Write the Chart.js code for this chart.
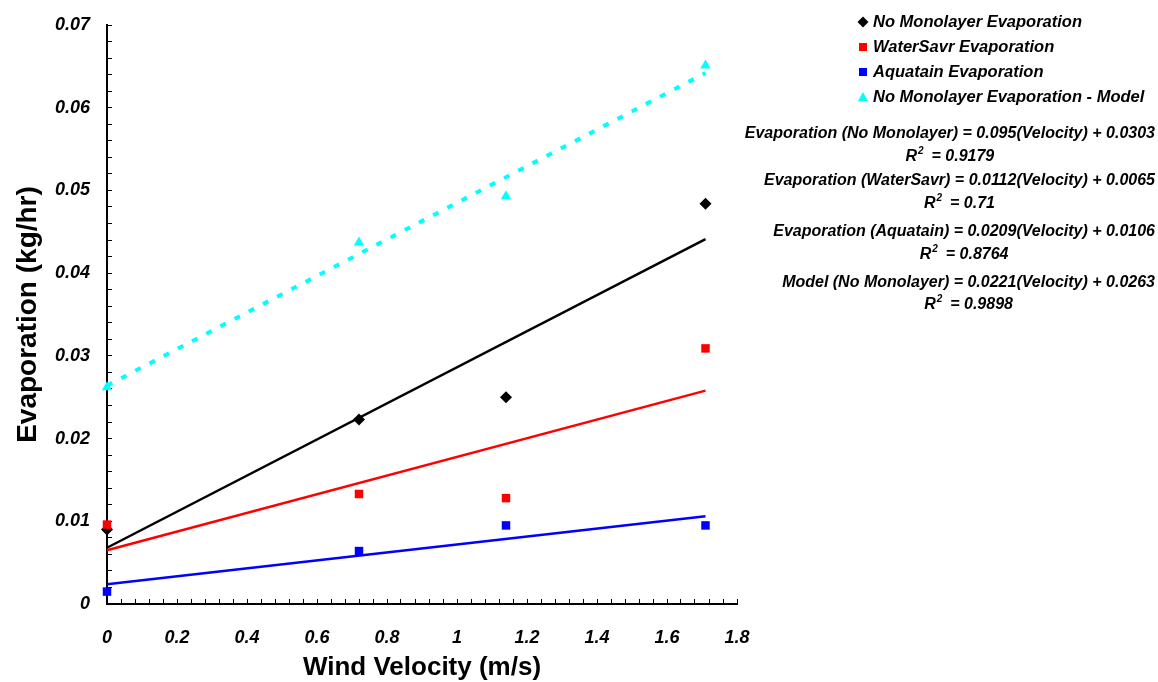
<!DOCTYPE html>
<html lang="en">
<head>
  <meta charset="UTF-8" />
  <title>Evaporation vs Wind Velocity</title>
  <script src="https://cdn.jsdelivr.net/npm/chart.js"></script>
  <style>
    body {
      margin: 0;
      background: #fff;
    }
  </style>
</head>
<body>

  <canvas id="evapChart" width="1158" height="682"></canvas>

  <script>
    // measured points, wind velocity in m/s
    const velocity = [0, 0.72, 1.14, 1.71];
    const noMonolayer = [0.0090, 0.0223, 0.0250, 0.0484];
    const waterSavr = [0.0096, 0.0133, 0.0128, 0.0309];
    const aquatain = [0.0015, 0.0064, 0.0095, 0.0095];
    const modelPoints = [0.0262, 0.0437, 0.0493, 0.0651];

    // trendlines, read at both ends
    const trendX = [0, 1.71];
    const trendNoMonolayer = [0.0068, 0.0441];
    const trendWaterSavr = [0.0065, 0.0258];
    const trendAquatain = [0.0024, 0.0106];
    const trendModel = [0.0264, 0.0642];

    const equations = [
      'Evaporation (No Monolayer) = 0.095(Velocity) + 0.0303',
      'Evaporation (WaterSavr) = 0.0112(Velocity) + 0.0065',
      'Evaporation (Aquatain) = 0.0209(Velocity) + 0.0106',
      'Model (No Monolayer) = 0.0221(Velocity) + 0.0263'
    ];
    const rSquared = ['0.9179', '0.71', '0.8764', '0.9898'];

    const xTitle = 'Wind Velocity (m/s)';
    const yTitle = 'Evaporation (kg/hr)';

    const FONT = '"Liberation Sans", Arial, sans-serif';

    function toPoints(xs, ys) {
      return xs.map((x, i) => ({ x: x, y: ys[i] }));
    }

    function markerSet(label, ys, style, color, order) {
      return {
        type: 'scatter',
        label: label,
        data: toPoints(velocity, ys),
        pointStyle: style,
        pointRadius: 6,
        backgroundColor: color,
        borderColor: color,
        borderWidth: 0,
        clip: false,
        order: order
      };
    }

    function trendSet(ys, color, dash, width) {
      return {
        type: 'line',
        label: '',
        data: toPoints(trendX, ys),
        borderColor: color,
        borderWidth: width,
        borderDash: dash,
        pointRadius: 0,
        fill: false,
        tension: 0,
        clip: false,
        order: 10
      };
    }

    function drawMarker(ctx, style, color, x, y) {
      ctx.fillStyle = color;
      ctx.beginPath();
      if (style === 'rectRot') {
        ctx.moveTo(x, y - 5.5);
        ctx.lineTo(x + 5.5, y);
        ctx.lineTo(x, y + 5.5);
        ctx.lineTo(x - 5.5, y);
      } else if (style === 'triangle') {
        ctx.moveTo(x, y - 5);
        ctx.lineTo(x + 5, y + 4);
        ctx.lineTo(x - 5, y + 4);
      } else {
        ctx.rect(x - 4, y - 4, 8, 8);
      }
      ctx.closePath();
      ctx.fill();
    }

    const extras = {
      id: 'extras',
      afterDraw(chart) {
        const ctx = chart.ctx;
        const area = chart.chartArea;
        ctx.save();
        ctx.fillStyle = '#000';
        ctx.textBaseline = 'middle';

        // axis titles
        ctx.textAlign = 'center';
        ctx.font = 'bold 26px ' + FONT;
        ctx.fillText(xTitle, (area.left + area.right) / 2, 668);
        ctx.save();
        ctx.translate(28, (area.top + area.bottom) / 2);
        ctx.rotate(-Math.PI / 2);
        ctx.font = 'bold 28px ' + FONT;
        ctx.fillText(yTitle, 0, 0);
        ctx.restore();

        // legend (first four datasets)
        ctx.textAlign = 'left';
        ctx.font = 'italic bold 16.5px ' + FONT;
        for (let i = 0; i < 4; i++) {
          const ds = chart.data.datasets[i];
          const y = 22 + i * 25;
          drawMarker(ctx, ds.pointStyle, ds.backgroundColor, 863, y);
          ctx.fillStyle = '#000';
          ctx.fillText(ds.label, 873, y);
        }

        // trendline equations
        const eqY = [134, 181, 232, 283];
        const r2Y = [157, 204, 255, 305];
        const right = 1155;
        equations.forEach((eq, i) => {
          ctx.font = 'italic bold 16px ' + FONT;
          ctx.textAlign = 'right';
          const w = ctx.measureText(eq).width;
          ctx.fillText(eq, right, eqY[i]);
          const cx = right - w / 2;

          const rest = '  = ' + rSquared[i];
          const wR = ctx.measureText('R').width;
          const wRest = ctx.measureText(rest).width;
          ctx.font = 'italic bold 10px ' + FONT;
          const w2 = ctx.measureText('2').width;
          let x = cx - (wR + w2 + wRest) / 2;
          ctx.textAlign = 'left';
          ctx.font = 'italic bold 16px ' + FONT;
          ctx.fillText('R', x, r2Y[i]);
          x += wR;
          ctx.font = 'italic bold 10px ' + FONT;
          ctx.fillText('2', x + 1, r2Y[i] - 6);
          x += w2;
          ctx.font = 'italic bold 16px ' + FONT;
          ctx.fillText(rest, x, r2Y[i]);
        });
        ctx.restore();
      }
    };

    const tickFont = { family: FONT, size: 18, weight: 'bold', style: 'italic' };

    new Chart(document.getElementById('evapChart'), {
      type: 'scatter',
      data: {
        datasets: [
          markerSet('No Monolayer Evaporation', noMonolayer, 'rectRot', '#000000', 2),
          markerSet('WaterSavr Evaporation', waterSavr, 'rect', '#ff0000', 0),
          markerSet('Aquatain Evaporation', aquatain, 'rect', '#0000ff', 1),
          markerSet('No Monolayer Evaporation - Model', modelPoints, 'triangle', '#00ffff', 3),
          trendSet(trendNoMonolayer, '#000000', [], 2.5),
          trendSet(trendWaterSavr, '#ff0000', [], 2.5),
          trendSet(trendAquatain, '#0000ff', [], 2.5),
          trendSet(trendModel, '#00ffff', [6, 10], 4)
        ]
      },
      options: {
        responsive: false,
        animation: false,
        layout: { padding: { left: 0, top: 25, right: 421, bottom: 0 } },
        plugins: {
          legend: { display: false },
          tooltip: { enabled: false }
        },
        scales: {
          x: {
            type: 'linear',
            min: 0,
            max: 1.8,
            afterFit(scale) { scale.height = 78; },
            grid: { drawOnChartArea: false, drawTicks: true, tickLength: -5, tickColor: '#000', tickWidth: 1 },
            border: { color: '#000', width: 2 },
            ticks: {
              stepSize: 0.04,
              autoSkip: false,
              maxRotation: 0,
              padding: 28,
              color: '#000',
              font: tickFont,
              callback(v) {
                const k = v * 5;
                if (Math.abs(k - Math.round(k)) > 1e-6) return '';
                return String(parseFloat(v.toFixed(1)));
              }
            }
          },
          y: {
            min: 0,
            max: 0.07,
            afterFit(scale) {
              scale.width = 107;
              // labels overhang only a little, keep the plot top where it is
              scale.paddingTop = 0;
              scale.paddingBottom = 0;
            },
            grid: { drawOnChartArea: false, drawTicks: true, tickLength: -5, tickColor: '#000', tickWidth: 1 },
            border: { color: '#000', width: 2 },
            ticks: {
              stepSize: 0.002,
              autoSkip: false,
              padding: 22,
              color: '#000',
              font: tickFont,
              callback(v) {
                const k = v * 100;
                if (Math.abs(k - Math.round(k)) > 1e-6) return '';
                return String(parseFloat(v.toFixed(2)));
              }
            }
          }
        }
      },
      plugins: [extras]
    });
  </script>
</body>
</html>
